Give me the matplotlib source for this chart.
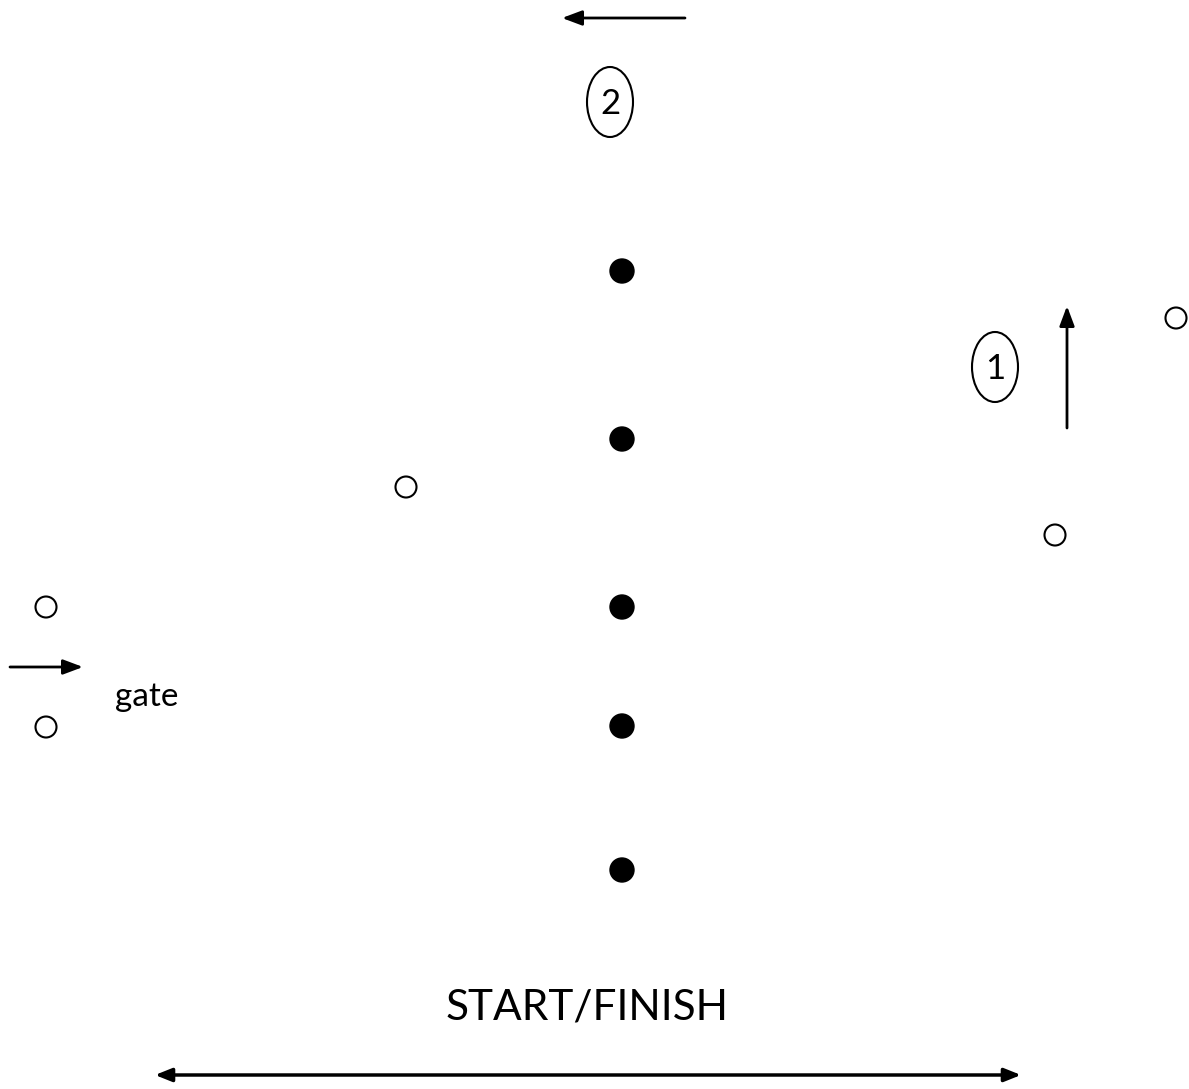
import matplotlib.pyplot as plt
from matplotlib.patches import Ellipse, Circle

# course layout (pixel coordinates of the drawing)
center_x = [622, 622, 622, 622, 622]
center_y = [271, 439, 607, 726, 870]
cone_x = [406, 1176, 1055, 46, 46]
cone_y = [487, 318, 535, 607, 727]
labels = ["2", "1"]
label_x = [610, 995]
label_y = [102, 367]

fig = plt.figure(figsize=(11.89, 10.89), dpi=100)
ax = fig.add_axes([0, 0, 1, 1])
ax.set_xlim(0, 1189)
ax.set_ylim(1089, 0)
ax.axis("off")

font = ["Lato", "DejaVu Sans"]

for x, y in zip(center_x, center_y):
    ax.add_patch(Circle((x, y), 12, color="black"))
for x, y in zip(cone_x, cone_y):
    ax.add_patch(Circle((x, y), 10.5, facecolor="white", edgecolor="black", lw=1.5))

for t, x, y in zip(labels, label_x, label_y):
    ax.add_patch(Ellipse((x, y), 46, 70, facecolor="none", edgecolor="black", lw=1.5))
    ax.text(x, y + 2, t, ha="center", va="center", fontsize=25, family=font)

arrow = dict(arrowstyle="-|>,head_length=1.2,head_width=0.45", color="black", lw=2, shrinkA=0, shrinkB=0)
ax.annotate("", xy=(562, 18), xytext=(685, 18), arrowprops=arrow)
ax.annotate("", xy=(1067, 306), xytext=(1067, 428), arrowprops=arrow)
ax.annotate("", xy=(83, 667), xytext=(10, 667), arrowprops=arrow)
ax.annotate("", xy=(1021, 1075), xytext=(155, 1075),
            arrowprops=dict(arrowstyle="<|-|>,head_length=1.0,head_width=0.4", color="black", lw=2.5,
                            shrinkA=0, shrinkB=0))

ax.text(115, 697, "gate", ha="left", va="center", fontsize=24, family=font)
ax.text(587, 1008, "START/FINISH", ha="center", va="center", fontsize=30.5, family=font)

fig.savefig("out.png", dpi=100)
